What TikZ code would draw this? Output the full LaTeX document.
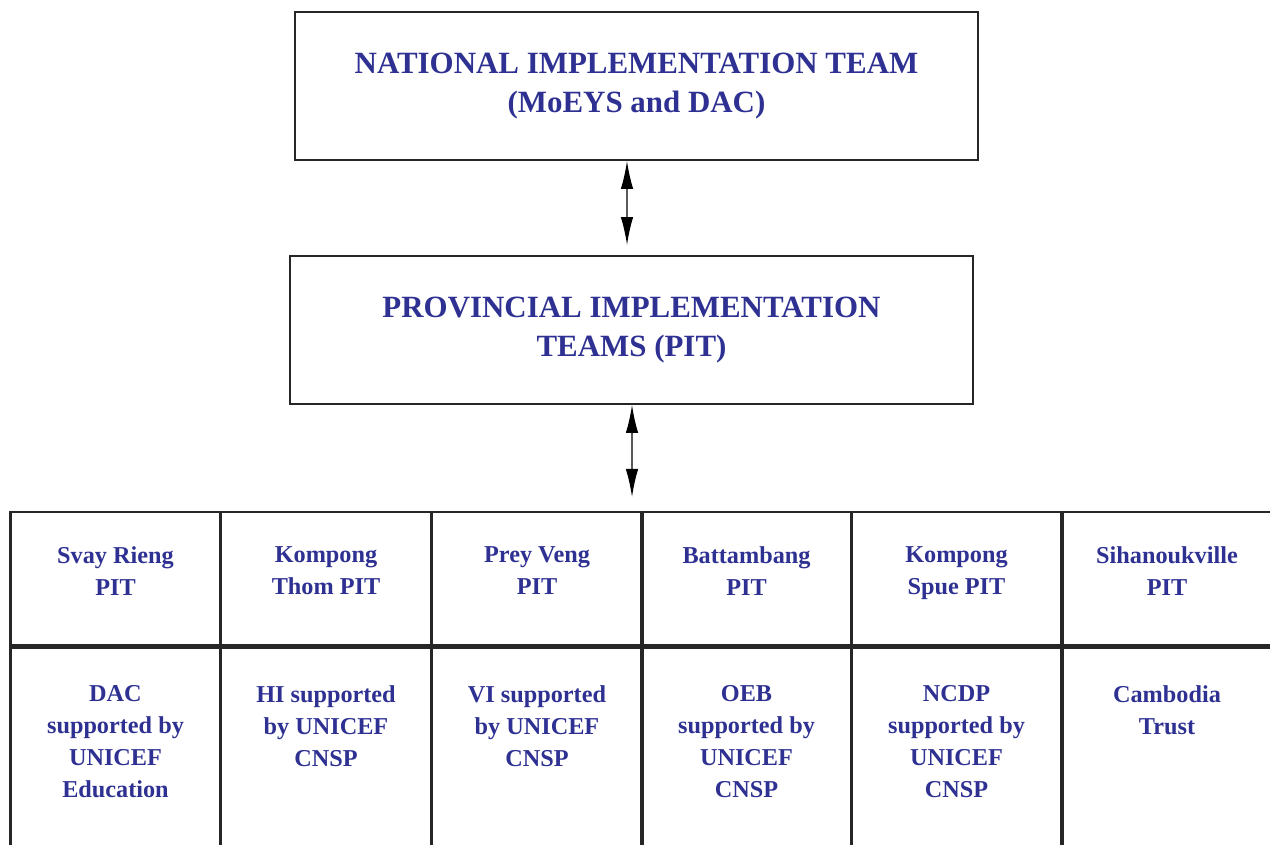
\documentclass[tikz,border=0pt]{standalone}
\usepackage{fontspec}
\setmainfont{Liberation Serif}
\usetikzlibrary{arrows.meta}
\definecolor{teamblue}{RGB}{46,49,146}
\newcommand{\bigtxt}{\fontsize{17.6}{22.2}\selectfont\bfseries}
\newcommand{\celltxt}{\fontsize{13.8}{18.1}\selectfont\bfseries}
\begin{document}
\begin{tikzpicture}
[
teambox/.style={rectangle, draw=black!85, line width=1.1pt, minimum width=13.66cm, minimum height=2.96cm, align=center, text=teamblue, font=\bigtxt},
cell/.style={rectangle, draw=black!85, line width=1.7pt, minimum width=4.2cm, inner sep=0pt},
celltext/.style={align=center, text=teamblue, font=\celltxt, anchor=north, inner sep=0pt},
arr/.style={line width=0.8pt, {Latex[length=0.56cm,width=0.25cm]}-{Latex[length=0.56cm,width=0.25cm]}},
]
%
\useasboundingbox (0,0) rectangle (25.4,16.88);
\clip (0,0) rectangle (25.4,16.88);

\node [teambox] (nit) at (12.73,15.16) {NATIONAL IMPLEMENTATION TEAM\\(MoEYS and DAC)};
\node [teambox] (pit) at (12.63,10.28) {PROVINCIAL IMPLEMENTATION\\TEAMS (PIT)};

\coordinate (tabletop) at (12.64,6.94);
%
\draw [arr] ([xshift=-0.19cm]nit.south) -- ([xshift=-0.09cm,yshift=0.2cm]pit.north);
\draw [arr] ([xshift=0.01cm]pit.south) -- (tabletop);
%
% provinces
\foreach \i/\x/\name in {1/2.31/{Svay Rieng\\PIT}, 2/6.52/{Kompong\\Thom PIT}, 3/10.74/{Prey Veng\\PIT},
                         4/14.93/{Battambang\\PIT}, 5/19.13/{Kompong\\Spue PIT}, 6/23.34/{Sihanoukville\\PIT}}
{
\node [cell, minimum height=2.66cm] (prov\i) at (\x,5.31) {};
\node [cell, minimum height=4.6cm, anchor=north] (supp\i) at (prov\i.south) {};
\node [celltext] (name\i) at ([yshift=-0.72cm]prov\i.north) {\name};
}
%
\node [celltext] (txt1) at ([yshift=-0.78cm]supp1.north) {DAC\\supported by\\UNICEF\\Education};
\node [celltext] (txt2) at ([yshift=-0.78cm]supp2.north) {HI supported\\by UNICEF\\CNSP};
\node [celltext] (txt3) at ([yshift=-0.78cm]supp3.north) {VI supported\\by UNICEF\\CNSP};
\node [celltext] (txt4) at ([yshift=-0.78cm]supp4.north) {OEB\\supported by\\UNICEF\\CNSP};
\node [celltext] (txt5) at ([yshift=-0.78cm]supp5.north) {NCDP\\supported by\\UNICEF\\CNSP};
\node [celltext] (txt6) at ([yshift=-0.78cm]supp6.north) {Cambodia\\Trust};
%
\end{tikzpicture}
\end{document}
